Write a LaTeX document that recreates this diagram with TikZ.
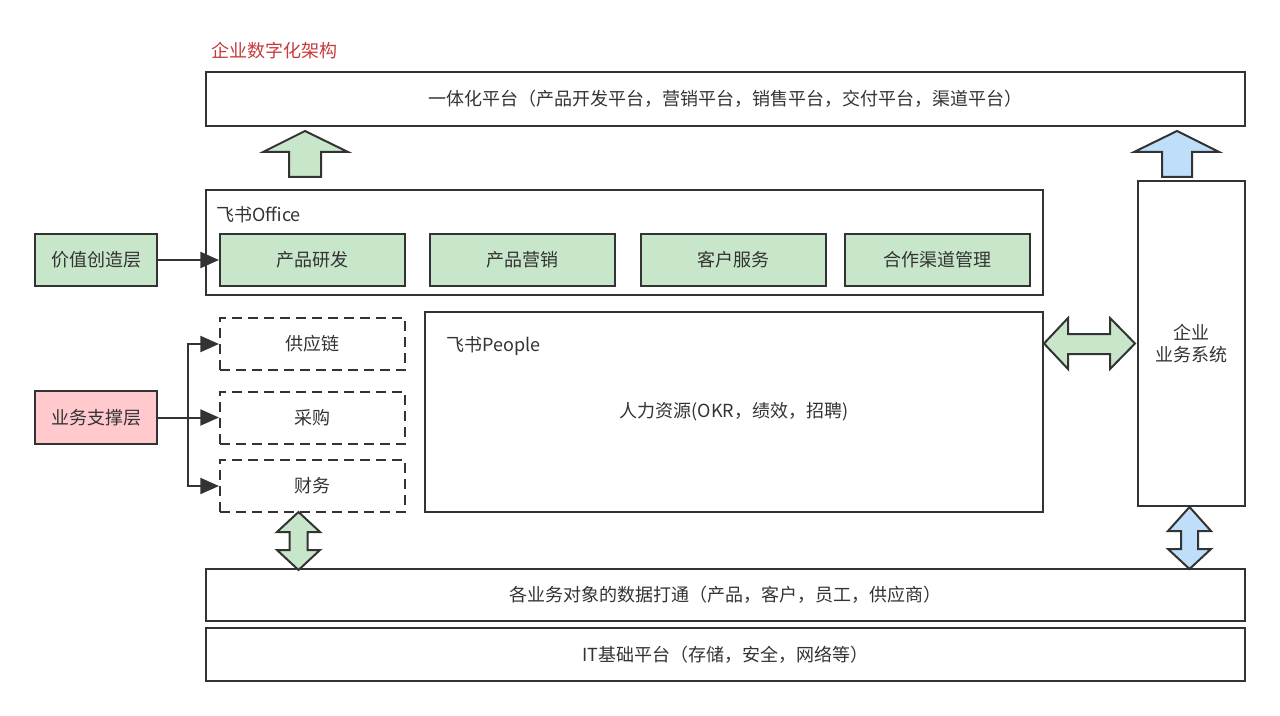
\documentclass[tikz,border=0pt]{standalone}
\usepackage{fontspec}
\setmainfont{Noto Sans CJK SC}
\usepackage{xcolor}
\usetikzlibrary{arrows.meta,positioning}
\newcommand{\unitpx}{0.75pt}
\definecolor{linegray}{HTML}{333333}
\definecolor{textgray}{HTML}{333333}
\definecolor{archgreen}{HTML}{C8E6C9}
\definecolor{archpink}{HTML}{FFC9CD}
\definecolor{archblue}{HTML}{BFDEFA}
\definecolor{titlered}{HTML}{C63A3A}

\begin{document}
\begin{tikzpicture}[x=\unitpx,y=-\unitpx,
  every node/.style={font=\fontsize{13.5pt}{16.5pt}\selectfont,text=textgray,inner sep=0pt},
  box/.style={draw=linegray,line width=1.5pt,rectangle},
  greenbox/.style={box,fill=archgreen,minimum width=185*\unitpx,minimum height=52*\unitpx},
  dashbox/.style={box,dash pattern=on 7.5pt off 4.5pt,minimum width=185*\unitpx,minimum height=52*\unitpx},
  widebox/.style={box,minimum width=1039*\unitpx,minimum height=53*\unitpx},
  fatarrow/.style={draw=linegray,line width=1.5pt,line join=miter},
  link/.style={draw=linegray,line width=1.5pt,-{Triangle[length=14pt,width=12pt]}}]
  \useasboundingbox (0,0) rectangle (1280,716);

  % top
  \node[anchor=west,text=titlered] (title) at (211,51) {企业数字化架构};
  \node[widebox,minimum height=54*\unitpx] (platform) at (725.5,99) {一体化平台（产品开发平台，营销平台，销售平台，交付平台，渠道平台）};

  % office
  \node[box,minimum width=837*\unitpx,minimum height=105*\unitpx] (office) at (624.5,242.5) {};
  \node[anchor=west] (officelabel) at (216,215) {飞书Office};
  \node[greenbox] (rd) at (312.5,260) {产品研发};
  \node[greenbox] (mk) [right=17.6pt of rd] {产品营销};
  \node[greenbox] (cs) [right=17.6pt of mk] {客户服务};
  \node[greenbox] (ch) [right=13.1pt of cs] {合作渠道管理};
  \node[greenbox,minimum width=122*\unitpx] (value) at (96,260) {价值创造层};
  \draw[link] (value) -- (rd);

  % support
  \node[dashbox] (supply) at (312.5,344) {供应链};
  \node[dashbox] (purchase) at (312.5,417.5) {采购};
  \node[dashbox] (finance) at (312.5,486) {财务};
  \node[box,fill=archpink,minimum width=122*\unitpx,minimum height=53*\unitpx] (support) at (96,417.5) {业务支撑层};
  \coordinate (fork) at (188,417.5);
  \draw[link] (support) -- (purchase);
  \draw[link] (fork) |- (supply);
  \draw[link] (fork) |- (finance);

  % people and systems
  \node[box,minimum width=618*\unitpx,minimum height=200*\unitpx] (people) at (734,412) {人力资源(OKR，绩效，招聘)};
  \node[anchor=west] (peoplelabel) at (446,346) {飞书People};
  \node[box,minimum width=107*\unitpx,minimum height=325*\unitpx,align=center] (system) at (1191.5,343.5) {企业\\业务系统};

  % bottom
  \node[widebox,minimum height=52*\unitpx] (data) at (725.5,595) {各业务对象的数据打通（产品，客户，员工，供应商）};
  \node[widebox] (infra) at (725.5,654.5) {IT基础平台（存储，安全，网络等）};

  % fat arrows
  \draw[fatarrow,fill=archgreen] (305,131) -- (348,152) -- (321,152) -- (321,177) -- (289,177) -- (289,152) -- (263,152) -- cycle;
  \draw[fatarrow,fill=archblue] (1177,131) -- (1219,152) -- (1192,152) -- (1192,177) -- (1162,177) -- (1162,152) -- (1134,152) -- cycle;
  \draw[fatarrow,fill=archgreen] (1044,343.5) -- (1068,318) -- (1068,334) -- (1110,334) -- (1110,318) -- (1135,343.5)
    -- (1110,369) -- (1110,354) -- (1068,354) -- (1068,369) -- cycle;
  \draw[fatarrow,fill=archgreen] (298.5,512) -- (320,532) -- (307.5,532) -- (307.5,550) -- (320,550) -- (298.5,570)
    -- (277,550) -- (289.5,550) -- (289.5,532) -- (277,532) -- cycle;
  \draw[fatarrow,fill=archblue] (1189.5,507) -- (1211,531) -- (1198,531) -- (1198,549) -- (1211,549) -- (1189.5,569)
    -- (1168,549) -- (1181,549) -- (1181,531) -- (1168,531) -- cycle;
\end{tikzpicture}
\end{document}
